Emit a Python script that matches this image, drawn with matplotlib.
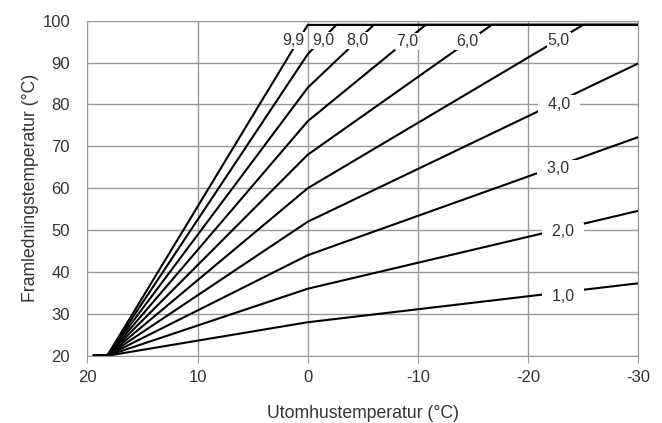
import numpy as np
import matplotlib.pyplot as plt

plt.rcParams['font.family'] = ['Liberation Sans', 'DejaVu Sans']
plt.rcParams['axes.unicode_minus'] = False

# breakpoints of each heating curve (outdoor temp -> supply temp)
curve_names = ['1,0', '2,0', '3,0', '4,0', '5,0', '6,0', '7,0', '8,0', '9,0', '9,9']
curve_x = [
    [19.5, 18.2, 0, -30],
    [19.5, 18.2, 0, -30],
    [19.5, 18.2, 0, -30],
    [19.5, 18.2, 0, -30],
    [19.5, 18.2, 0, -25.0, -30],
    [19.5, 18.2, 0, -16.7, -30],
    [19.5, 18.2, 0, -10.7, -30],
    [19.5, 18.2, 0, -6.0, -30],
    [19.5, 18.2, 0, -2.6, -30],
    [19.5, 18.2, 0, -30],
]
curve_y = [
    [20, 20, 28, 37.3],
    [20, 20, 36, 54.6],
    [20, 20, 44, 72.2],
    [20, 20, 52, 89.8],
    [20, 20, 60, 99, 99],
    [20, 20, 68, 99, 99],
    [20, 20, 76, 99, 99],
    [20, 20, 84, 99, 99],
    [20, 20, 92, 99, 99],
    [20, 20, 99, 99],
]
# label positions on the curves
label_x = [-23.2, -23.2, -22.7, -22.8, -22.8, -14.5, -9.0, -4.5, -1.4, 1.3]
label_y = [34.1, 49.6, 64.7, 80.1, 95.2, 95.0, 95.0, 95.2, 95.2, 95.2]

fig = plt.figure(figsize=(6.62, 4.23), dpi=100)
ax = fig.add_axes([0.132, 0.159, 0.832, 0.792])

for xs, ys in zip(curve_x, curve_y):
    ax.plot(xs, ys, color='black', lw=1.5, solid_capstyle='butt', zorder=3)

for i, name in enumerate(curve_names):
    if i < 4:
        txt = '  ' + name + '  '
    else:
        txt = name
    ax.text(label_x[i], label_y[i], txt, ha='center', va='center', fontsize=11.5,
            color='#333333', zorder=4,
            bbox=dict(facecolor='white', edgecolor='none', pad=0.8))

ax.set_xlim(20, -30)
ax.set_ylim(20, 100)
ax.set_xticks([20, 10, 0, -10, -20, -30])
ax.set_yticks(range(20, 101, 10))
ax.grid(True, color='#999999', lw=1)
ax.set_axisbelow(True)
for s in ax.spines.values():
    s.set_color('#999999')
ax.tick_params(axis='x', length=5, color='#999999', labelsize=12, labelcolor='#333333', pad=5)
ax.tick_params(axis='y', length=0, labelsize=12, labelcolor='#333333', pad=12.5)

ax.set_xlabel('Utomhustemperatur (°C)', fontsize=12.7, color='#333333', labelpad=15)
ax.set_ylabel('Framledningstemperatur (°C)', fontsize=12.7, color='#333333', labelpad=2)

fig.savefig('out.png', dpi=100)
